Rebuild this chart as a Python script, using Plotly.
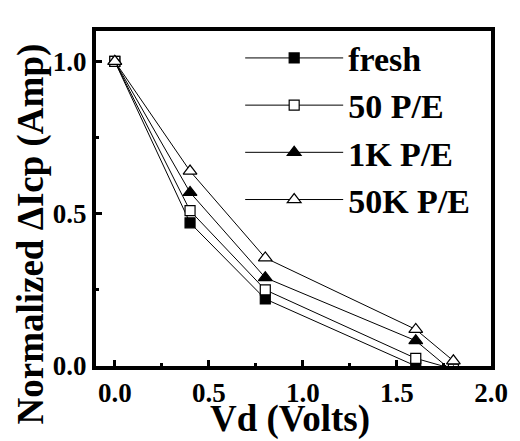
import plotly.graph_objects as go

series_names = ["fresh", "50 P/E", "1K P/E", "50K P/E"]
x_fresh = [0.0, 0.4, 0.8, 1.6]
y_fresh = [1.0, 0.47, 0.22, 0.0]
x_50 = [0.0, 0.4, 0.8, 1.6, 1.8]
y_50 = [1.0, 0.51, 0.25, 0.025, -0.01]
x_1k = [0.0, 0.4, 0.8, 1.6, 1.8]
y_1k = [1.0, 0.57, 0.29, 0.083, -0.02]
x_50k = [0.0, 0.4, 0.8, 1.6, 1.8]
y_50k = [1.0, 0.64, 0.355, 0.12, 0.017]

x_ticks = [0.0, 0.5, 1.0, 1.5, 2.0]
x_ticklabels = ["0.0", "0.5", "1.0", "1.5", "2.0"]
y_ticks = [0.0, 0.5, 1.0]
y_ticklabels = ["0.0", "0.5", "1.0"]

FONT = "Liberation Serif"

styles = [
    dict(symbol="square", color="black", size=10),
    dict(symbol="square", color="white", size=10),
    dict(symbol="triangle-up", color="black", size=12),
    dict(symbol="triangle-up", color="white", size=12),
]
data = [(x_fresh, y_fresh), (x_50, y_50), (x_1k, y_1k), (x_50k, y_50k)]

fig = go.Figure()
for name, (xs, ys), st in zip(series_names, data, styles):
    fig.add_trace(go.Scatter(
        x=xs, y=ys, name=name, mode="lines+markers",
        line=dict(color="black", width=1),
        marker=dict(symbol=st["symbol"], size=st["size"], color=st["color"],
                    line=dict(color="black", width=1.2)),
    ))

axis_common = dict(
    showgrid=False, zeroline=False, showline=True, linecolor="black",
    linewidth=4, mirror=True, ticks="inside", ticklen=6, tickwidth=3,
    tickcolor="black",
    tickfont=dict(family=FONT, size=27, color="black", weight="bold"),
    minor=dict(ticks="inside", ticklen=3, tickwidth=3, tickcolor="black"),
)

fig.update_xaxes(range=[-0.1, 2.0], tickvals=x_ticks, ticktext=x_ticklabels,
                 minor_dtick=0.25, **axis_common)
fig.update_yaxes(range=[0.0, 1.1], tickvals=y_ticks, ticktext=y_ticklabels,
                 minor_dtick=0.25, **axis_common)

fig.update_layout(
    width=520, height=441,
    margin=dict(l=96, r=26, t=31, b=75),
    paper_bgcolor="white", plot_bgcolor="white",
    showlegend=True,
    legend=dict(
        x=0.365, y=1.005, xanchor="left", yanchor="top",
        bgcolor="rgba(0,0,0,0)", borderwidth=0,
        font=dict(family=FONT, size=34, color="black", weight="bold"),
        itemwidth=98, tracegroupgap=0,
    ),
    annotations=[
        dict(text="Vd (Volts)", xref="paper", yref="paper", x=0.49, y=-0.157,
             xanchor="center", yanchor="middle", showarrow=False,
             font=dict(family=FONT, size=37, color="black", weight="bold")),
        dict(text="Normalized ΔIcp (Amp)", xref="paper", yref="paper",
             x=-0.165, y=0.395, xanchor="center", yanchor="middle",
             textangle=-90, showarrow=False,
             font=dict(family=FONT, size=37, color="black", weight="bold")),
    ],
)

fig.write_html("out.html")
